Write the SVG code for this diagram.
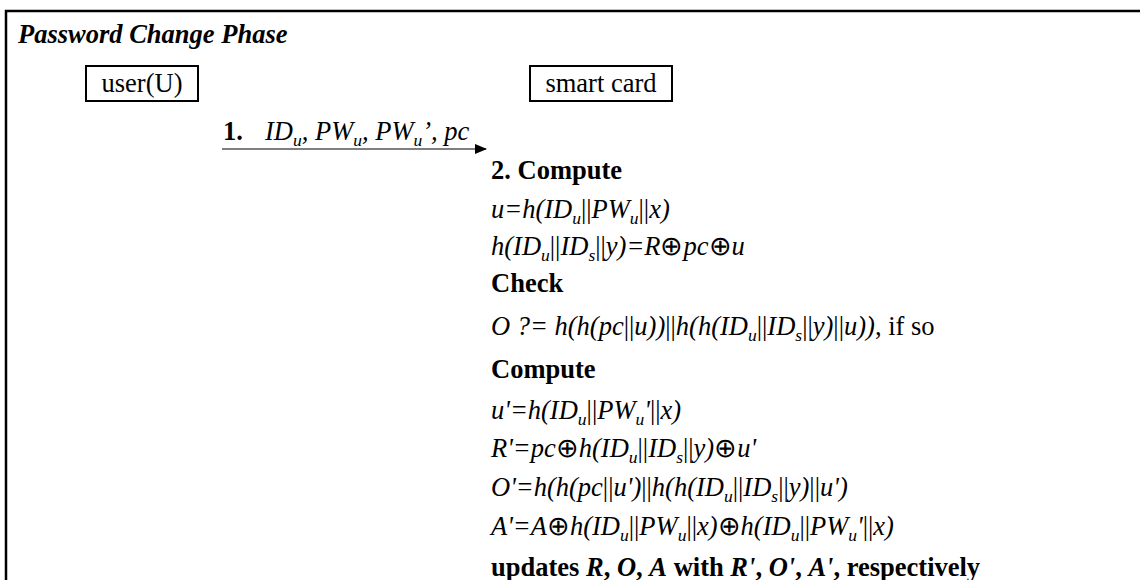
<svg xmlns="http://www.w3.org/2000/svg" width="1140" height="580" viewBox="0 0 1140 580">
<defs>
<style>
.t{font-family:"Liberation Serif","Times New Roman",serif;font-size:26.5px;fill:#000}
.i{font-style:italic}
.b{font-weight:bold}
.n{font-style:normal}
.s{font-size:17.5px}
.box{fill:#fff;stroke:#000;stroke-width:2}
.frame{fill:none;stroke:#000;stroke-width:2.5}
.conn{stroke:#000;stroke-width:1.2;fill:none}
</style>
<marker id="arr" markerWidth="12" markerHeight="10" refX="11" refY="5" orient="auto" markerUnits="userSpaceOnUse">
<path d="M0,0 L12,5 L0,10 Z" fill="#000"/>
</marker>
</defs>
<rect width="1140" height="580" fill="#fff"/>
<g id="frame">
<path class="frame" d="M6,600 L6,11 L1150,11"/>
<text class="t i b" x="18" y="43">Password Change Phase</text>
</g>
<g id="user">
<rect class="box" x="86" y="66" width="112" height="35"/>
<text class="t" x="142" y="92" text-anchor="middle">user(U)</text>
</g>
<g id="smartcard">
<rect class="box" x="530" y="66" width="142" height="35"/>
<text class="t" x="601" y="92" text-anchor="middle">smart card</text>
</g>
<g id="connectors">
<line class="conn" x1="222" y1="149" x2="486" y2="149" marker-end="url(#arr)"/>
<text class="t" x="223" y="140"><tspan class="b">1.</tspan><tspan x="265" class="i">ID</tspan><tspan class="s i" dy="6">u</tspan><tspan class="i" dy="-6">, PW</tspan><tspan class="s i" dy="6">u</tspan><tspan class="i" dy="-6">, PW</tspan><tspan class="s i" dy="6">u</tspan><tspan class="i" dy="-6">’, pc</tspan></text>
</g>
<g id="computation">
<text class="t b" x="491" y="179">2. Compute</text>
<text class="t i" x="491" y="218">u=h(ID<tspan class="s" dy="6">u</tspan><tspan class="n" dy="-6">||</tspan>PW<tspan class="s" dy="6">u</tspan><tspan class="n" dy="-6">||</tspan>x)</text>
<text class="t i" x="491" y="255">h(ID<tspan class="s" dy="6">u</tspan><tspan class="n" dy="-6">||</tspan>ID<tspan class="s" dy="6">s</tspan><tspan class="n" dy="-6">||</tspan>y)=R<tspan class="n">⊕</tspan>pc<tspan class="n">⊕</tspan>u</text>
<text class="t b" x="491" y="292">Check</text>
<text class="t i" x="491" y="335">O ?= h(h(pc<tspan class="n">||</tspan>u))<tspan class="n">||</tspan>h(h(ID<tspan class="s" dy="6">u</tspan><tspan class="n" dy="-6">||</tspan>ID<tspan class="s" dy="6">s</tspan><tspan class="n" dy="-6">||</tspan>y)<tspan class="n">||</tspan>u))<tspan class="n">, if so</tspan></text>
<text class="t b" x="491" y="378">Compute</text>
<text class="t i" x="491" y="419">u'=h(ID<tspan class="s" dy="6">u</tspan><tspan class="n" dy="-6">||</tspan>PW<tspan class="s" dy="6">u</tspan><tspan dy="-6">'</tspan><tspan class="n">||</tspan>x)</text>
<text class="t i" x="491" y="457">R'=pc<tspan class="n">⊕</tspan>h(ID<tspan class="s" dy="6">u</tspan><tspan class="n" dy="-6">||</tspan>ID<tspan class="s" dy="6">s</tspan><tspan class="n" dy="-6">||</tspan>y)<tspan class="n">⊕</tspan>u'</text>
<text class="t i" x="491" y="496">O'=h(h(pc<tspan class="n">||</tspan>u')<tspan class="n">||</tspan>h(h(ID<tspan class="s" dy="6">u</tspan><tspan class="n" dy="-6">||</tspan>ID<tspan class="s" dy="6">s</tspan><tspan class="n" dy="-6">||</tspan>y)<tspan class="n">||</tspan>u')</text>
<text class="t i" x="491" y="535">A'=A<tspan class="n">⊕</tspan>h(ID<tspan class="s" dy="6">u</tspan><tspan class="n" dy="-6">||</tspan>PW<tspan class="s" dy="6">u</tspan><tspan class="n" dy="-6">||</tspan>x)<tspan class="n">⊕</tspan>h(ID<tspan class="s" dy="6">u</tspan><tspan class="n" dy="-6">||</tspan>PW<tspan class="s" dy="6">u</tspan><tspan dy="-6">'</tspan><tspan class="n">||</tspan>x)</text>
<text class="t b" x="491" y="576">updates <tspan class="i">R</tspan>, <tspan class="i">O</tspan>, <tspan class="i">A</tspan> with <tspan class="i">R'</tspan>, <tspan class="i">O'</tspan>, <tspan class="i">A'</tspan>, respectively</text>
</g>
</svg>
